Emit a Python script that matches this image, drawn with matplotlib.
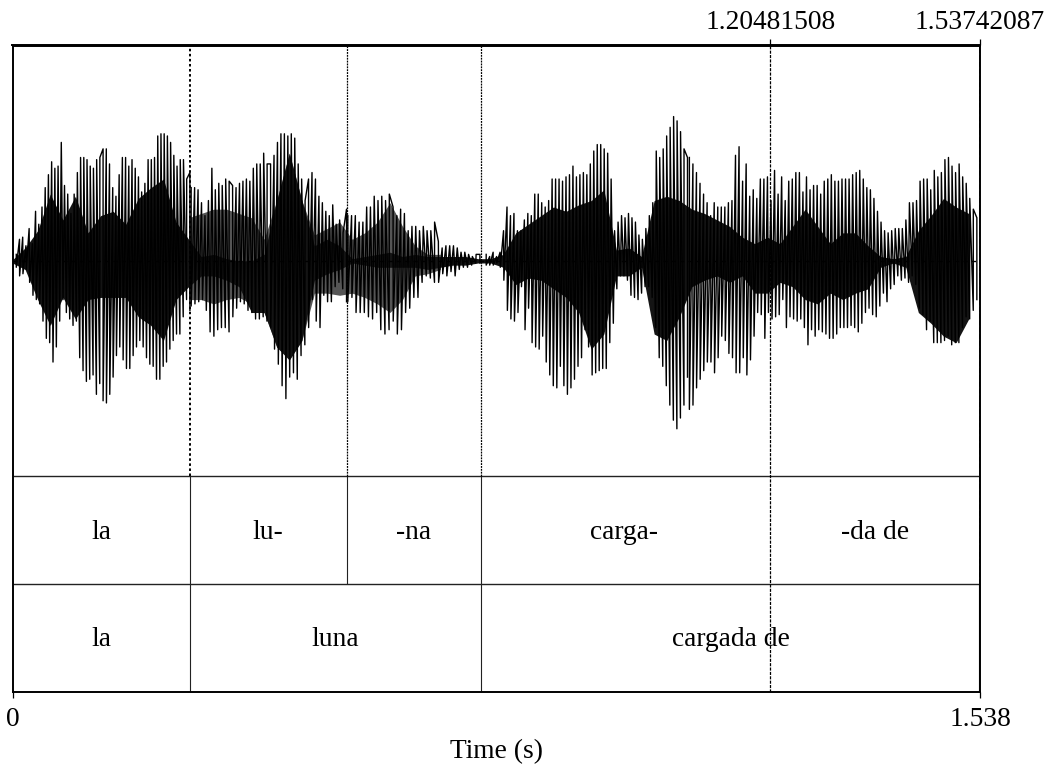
import numpy as np
import matplotlib
matplotlib.use('Agg')
import matplotlib.pyplot as plt

plt.rcParams['font.family'] = ['Liberation Serif', 'DejaVu Serif']

# peak amplitudes per glottal pulse, in percent of full scale
seg_times = [(0.006, 0.282), (0.284, 0.531), (0.533, 0.743), (0.753, 1.073), (1.076, 1.533)]
up_peaks = [
    [3,10,11,7,15,8,23,17,25,34,40,46,43,44,55,35,31,22,31,41,48,48,47,44,43,47,48,52,52,45,34,30,40,48,48,44,47,43,39,32,36,47,47,48,58,59,59,58,55,49,44,47,47,38,41],
    [34,34,33,27,21,28,43,33,36,35,38,37,35,34,36,37,38,37,43,45,45,50,45,45,49,55,59,59,58,59,57,45,38,28,38,41,38,30,27,23,21,26,17,19,13,24],
    [21,21,21,18,18,25,25,30,28,30,28,31,25,21,24,22,14,16,16,14,16,14,14,18,9,6,7,7,7,6,4,4,3,2,3,3],
    [3,2,4,2,4,14,25,21,22,14,14,19,22,21,31,31,27,25,28,38,38,38,37,39,40,44,39,40,41,40,45,51,54,54,52,50,38,14,18,21,20,22,20,18,12,10,15,21,27,51,48,52,58,62,67,65,60,52,48],
    [48,45,41,36,31,27,21,27,25,25,25,27,28,49,53,37,45,30,33,29,38,38,39,28,42,31,39,28,37,38,41,41,32,39,33,35,35,31,37,38,40,37,37,38,38,38,40,41,42,38,34,33,29,23,18,14,13,14,15,15,15,19,27,27,28,37,38,38,33,42,39,41,47,48,44,41,45,39,36,29,24,20],
]
lo_peaks = [
    [3,7,6,4,10,16,18,20,28,36,38,47,40,28,18,24,27,30,28,45,51,56,55,53,62,57,65,66,62,54,44,40,46,50,50,44,40,37,40,45,48,49,55,55,49,47,41,37,34,34,26,18,23],
    [21,20,19,18,23,33,35,32,31,31,33,26,22,19,20,23,24,27,27,26,28,31,41,48,58,64,54,52,55,44,39,31,18,28,31,16,19,19,12,10,13,19],
    [19,17,24,24,24,26,27,24,32,34,32,28,34,32,24,22,17,17,10,7,8,10,10,6,7,5,7,4,3,3,2,1,1],
    [2,2,2,1,3,9,23,27,28,24,12,32,22,38,40,41,35,47,53,58,59,49,58,62,59,55,49,45,32,40,53,52,51,50,50,38,29,13,7,7,9,16,17,18,15,12,12,17,31,45,49,58,67,74,78,73,67,54],
    [69,67,59,55,51,47,47,52,45,35,37,43,45,52,52,45,53,46,35,24,25,36,24,27,26,25,18,31,26,27,28,27,31,39,32,35,32,33,34,36,36,34,31,31,31,30,31,33,29,24,22,25,26,21,15,19,13,11,7,9,8,10,7,11,22,25,32,28,38,38,38,37,35,39,38,38,31,26,27,23,18],
]

# dense inner part of the wave, one reading every 0.02 s
core_step = 0.02
core_up = [0.5,6,14,31,19,30,13,21,23,17,29,34,38,18,10,2,3,1,0,0,3,28,50,28,7,10,7,
           1,2,3,4,2,3,2,2,2,2,1,1,3,13,17,21,25,23,26,28,33,5,6,2,28,30,28,
           24,22,19,16,11,8,11,8,16,24,16,8,13,13,7,2,1,2,14,21,29,25,22]
core_lo = [1,4,18,30,17,27,18,17,17,17,26,30,37,18,12,7,7,9,12,24,24,40,46,37,9,6,4,
           1,2,3,3,3,3,4,3,2,2,1,1,3,11,8,9,13,17,24,41,34,7,7,3,34,37,26,
           12,9,7,10,7,15,15,10,12,18,20,15,18,15,13,3,1,3,24,29,35,38,27]

# lighter grey band through lu- and -na
grey_start = 14
grey_up = [20,22,24,24,22,20,10,28,50,28,12,15,18,10,13,18,27,16,7,3,3]
grey_lo = [18,18,20,18,17,20,24,40,46,37,15,15,16,15,17,20,24,18,7,6,4]

total = 1.538
marks = [0.282, 0.531, 0.745, 1.20481508, 1.53742087]
syll_edges = [0.282, 0.531, 0.745]
syll_labels = ['la', 'lu-', '-na', 'carga-', '-da de']
syll_centers = [0.141, 0.4065, 0.638, 0.972, 1.3711]
word_edges = [0.282, 0.745, 1.5365]
word_labels = ['la', 'luna', 'cargada de']
word_centers = [0.141, 0.5135, 1.1415]

fig = plt.figure(figsize=(10.48, 7.64), dpi=100)
ax = fig.add_axes([12.5/1048, 1-691.5/764, 967.5/1048, 646/764])
ax.set_xlim(0, total)
ax.set_ylim(-2, 1)

# waveform: peaks joined in time order, as a sound editor draws it
core_t = np.arange(len(core_up))*core_step
grey_t = core_t[grey_start:grey_start+len(grey_up)]
ax.fill_between(grey_t, np.array(grey_up)/100, -np.array(grey_lo)/100, color='#555555', lw=0)
ax.fill_between(core_t, np.array(core_up)/100, -np.array(core_lo)/100, color='#141414', lw=0)
for (t0, t1), u, l in zip(seg_times, up_peaks, lo_peaks):
    tu = np.linspace(t0, t1, len(u))
    tl = np.linspace(t0, t1, len(l))
    t = np.concatenate([tu, tl])
    a = np.concatenate([u, -np.array(l)])/100
    order = np.argsort(t, kind='stable')
    ax.plot(t[order], a[order], color='k', lw=1.0)
ax.plot([0, total], [0, 0], color='k', lw=1.0, ls=(0, (3, 3)))

# tiers
ax.hlines([-1, -1.5], 0, total, color='#222222', lw=1.0)
ax.vlines(syll_edges, -1.5, -1, color='#222222', lw=0.8)
ax.vlines(word_edges, -2, -1.5, color='#222222', lw=0.8)
for c, s in zip(syll_centers, syll_labels):
    ax.text(c, -1.26, s, ha='center', va='center', fontsize=19.8)
for c, s in zip(word_centers, word_labels):
    ax.text(c, -1.76, s, ha='center', va='center', fontsize=19.8)

# boundary marks over the wave
ax.vlines(marks[0], -1, 1, color='k', lw=1.4, ls=(0, (1.3, 1.3)))
ax.vlines(marks[1:3], -1, 1, color='k', lw=0.9, ls=(0, (1.5, 0.8)))
ax.vlines(marks[3], -2, 1, color='k', lw=0.9, ls=(0, (2.5, 1)))
ax.vlines(marks[4], -1.5, 1, color='k', lw=1.4, ls=(0, (2.5, 1)))

for sp in ax.spines.values():
    sp.set_linewidth(1.4)
ax.set_yticks([])
ax.set_xticks([0, total])
ax.set_xticklabels(['0', '1.538'], fontsize=19.8)
ax.tick_params(axis='x', length=4.5, width=0.9, pad=7)
ax.set_xlabel('Time (s)', fontsize=19.8, labelpad=5)

top = ax.secondary_xaxis('top')
top.set_xticks(marks[3:])
top.set_xticklabels(['1.20481508', '1.53742087'], fontsize=19.8)
top.tick_params(length=4.5, width=0.9, pad=3)
top.spines['top'].set_linewidth(1.4)

plt.savefig('out.png', dpi=100)
